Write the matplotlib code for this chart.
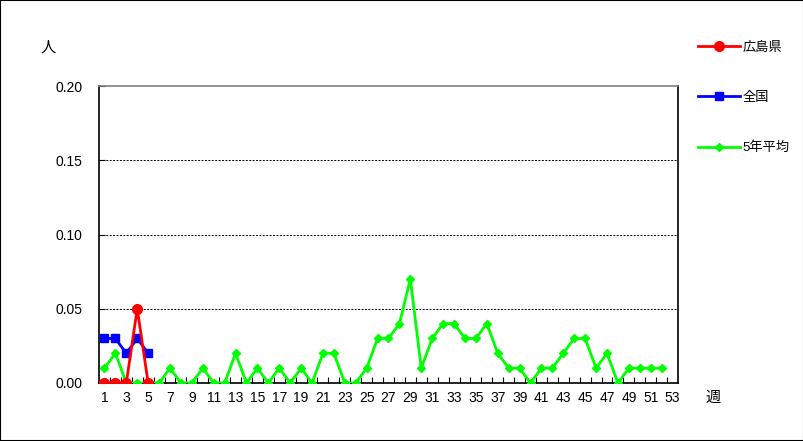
import matplotlib.pyplot as plt
from matplotlib.patches import Rectangle

plt.rcParams['font.family'] = ['Liberation Sans', 'Noto Sans CJK JP']

# ---------- データ ---------- #
weeks = list(range(1, 54))
hiroshima_weeks = [1, 2, 3, 4, 5]
hiroshima = [0.00, 0.00, 0.00, 0.05, 0.00]
zenkoku = [0.03, 0.03, 0.02, 0.03, 0.02]
avg_weeks = list(range(1, 53))
avg5 = [0.01, 0.02, 0.00, 0.00, 0.00, 0.00, 0.01, 0.00, 0.00, 0.01,
        0.00, 0.00, 0.02, 0.00, 0.01, 0.00, 0.01, 0.00, 0.01, 0.00,
        0.02, 0.02, 0.00, 0.00, 0.01, 0.03, 0.03, 0.04, 0.07, 0.01,
        0.03, 0.04, 0.04, 0.03, 0.03, 0.04, 0.02, 0.01, 0.01, 0.00,
        0.01, 0.01, 0.02, 0.03, 0.03, 0.01, 0.02, 0.00, 0.01, 0.01,
        0.01, 0.01]
yticks = [0.00, 0.05, 0.10, 0.15, 0.20]

# ---------- 図 ---------- #
fig = plt.figure(figsize=(8.04, 4.41), dpi=100)
fig.patches.append(Rectangle((0, 0), 1, 1, transform=fig.transFigure,
                             fill=False, edgecolor='black', linewidth=1.5))
ax = fig.add_axes([99 / 804, 1 - 383 / 441, 579 / 804, 297 / 441])

l3, = ax.plot(avg_weeks, avg5, color='#00ff00', lw=2, marker='D', ms=4.5,
              label='5年平均', zorder=3)
l2, = ax.plot(hiroshima_weeks, zenkoku, color='#0000ff', lw=2, marker='s', ms=5.5,
              label='全国', zorder=4)
l1, = ax.plot(hiroshima_weeks, hiroshima, color='#ff0000', lw=2, marker='o', ms=7,
              label='広島県', zorder=5)

ax.set_xlim(0.5, 53.5)
ax.set_ylim(0, 0.20)
ax.set_yticks(yticks)
ax.set_yticklabels(['%.2f' % v for v in yticks])
ax.set_xticks(weeks[::2])
ax.set_xticks([w + 0.5 for w in weeks[:-1]], minor=True)
ax.tick_params(axis='x', which='major', length=0, labelsize=10, pad=6)
ax.tick_params(axis='x', which='minor', direction='in', length=4, width=0.8)
ax.tick_params(axis='y', direction='in', length=4, labelsize=10, pad=12)
for v in yticks[1:-1]:
    ax.axhline(v, color='black', lw=0.7, ls=(0, (2, 1.5)), zorder=1)
for s in ['left', 'bottom', 'right']:
    ax.spines[s].set_linewidth(1.2)
ax.spines['top'].set_color('#808080')
ax.spines['top'].set_linewidth(1.2)

fig.text(48 / 804, 1 - 48 / 441, '人', fontsize=11, ha='center', va='center')
fig.text(713 / 804, 1 - 398 / 441, '週', fontsize=11, ha='center', va='center')

ax.legend(handles=[l1, l2, l3], loc='upper left',
          bbox_to_anchor=(686 / 804, 1 - 30 / 441), bbox_transform=fig.transFigure,
          frameon=False, fontsize=9.5, labelspacing=2.85, handlelength=3.2,
          handletextpad=0.2)

fig.savefig('out.png', dpi=100)
